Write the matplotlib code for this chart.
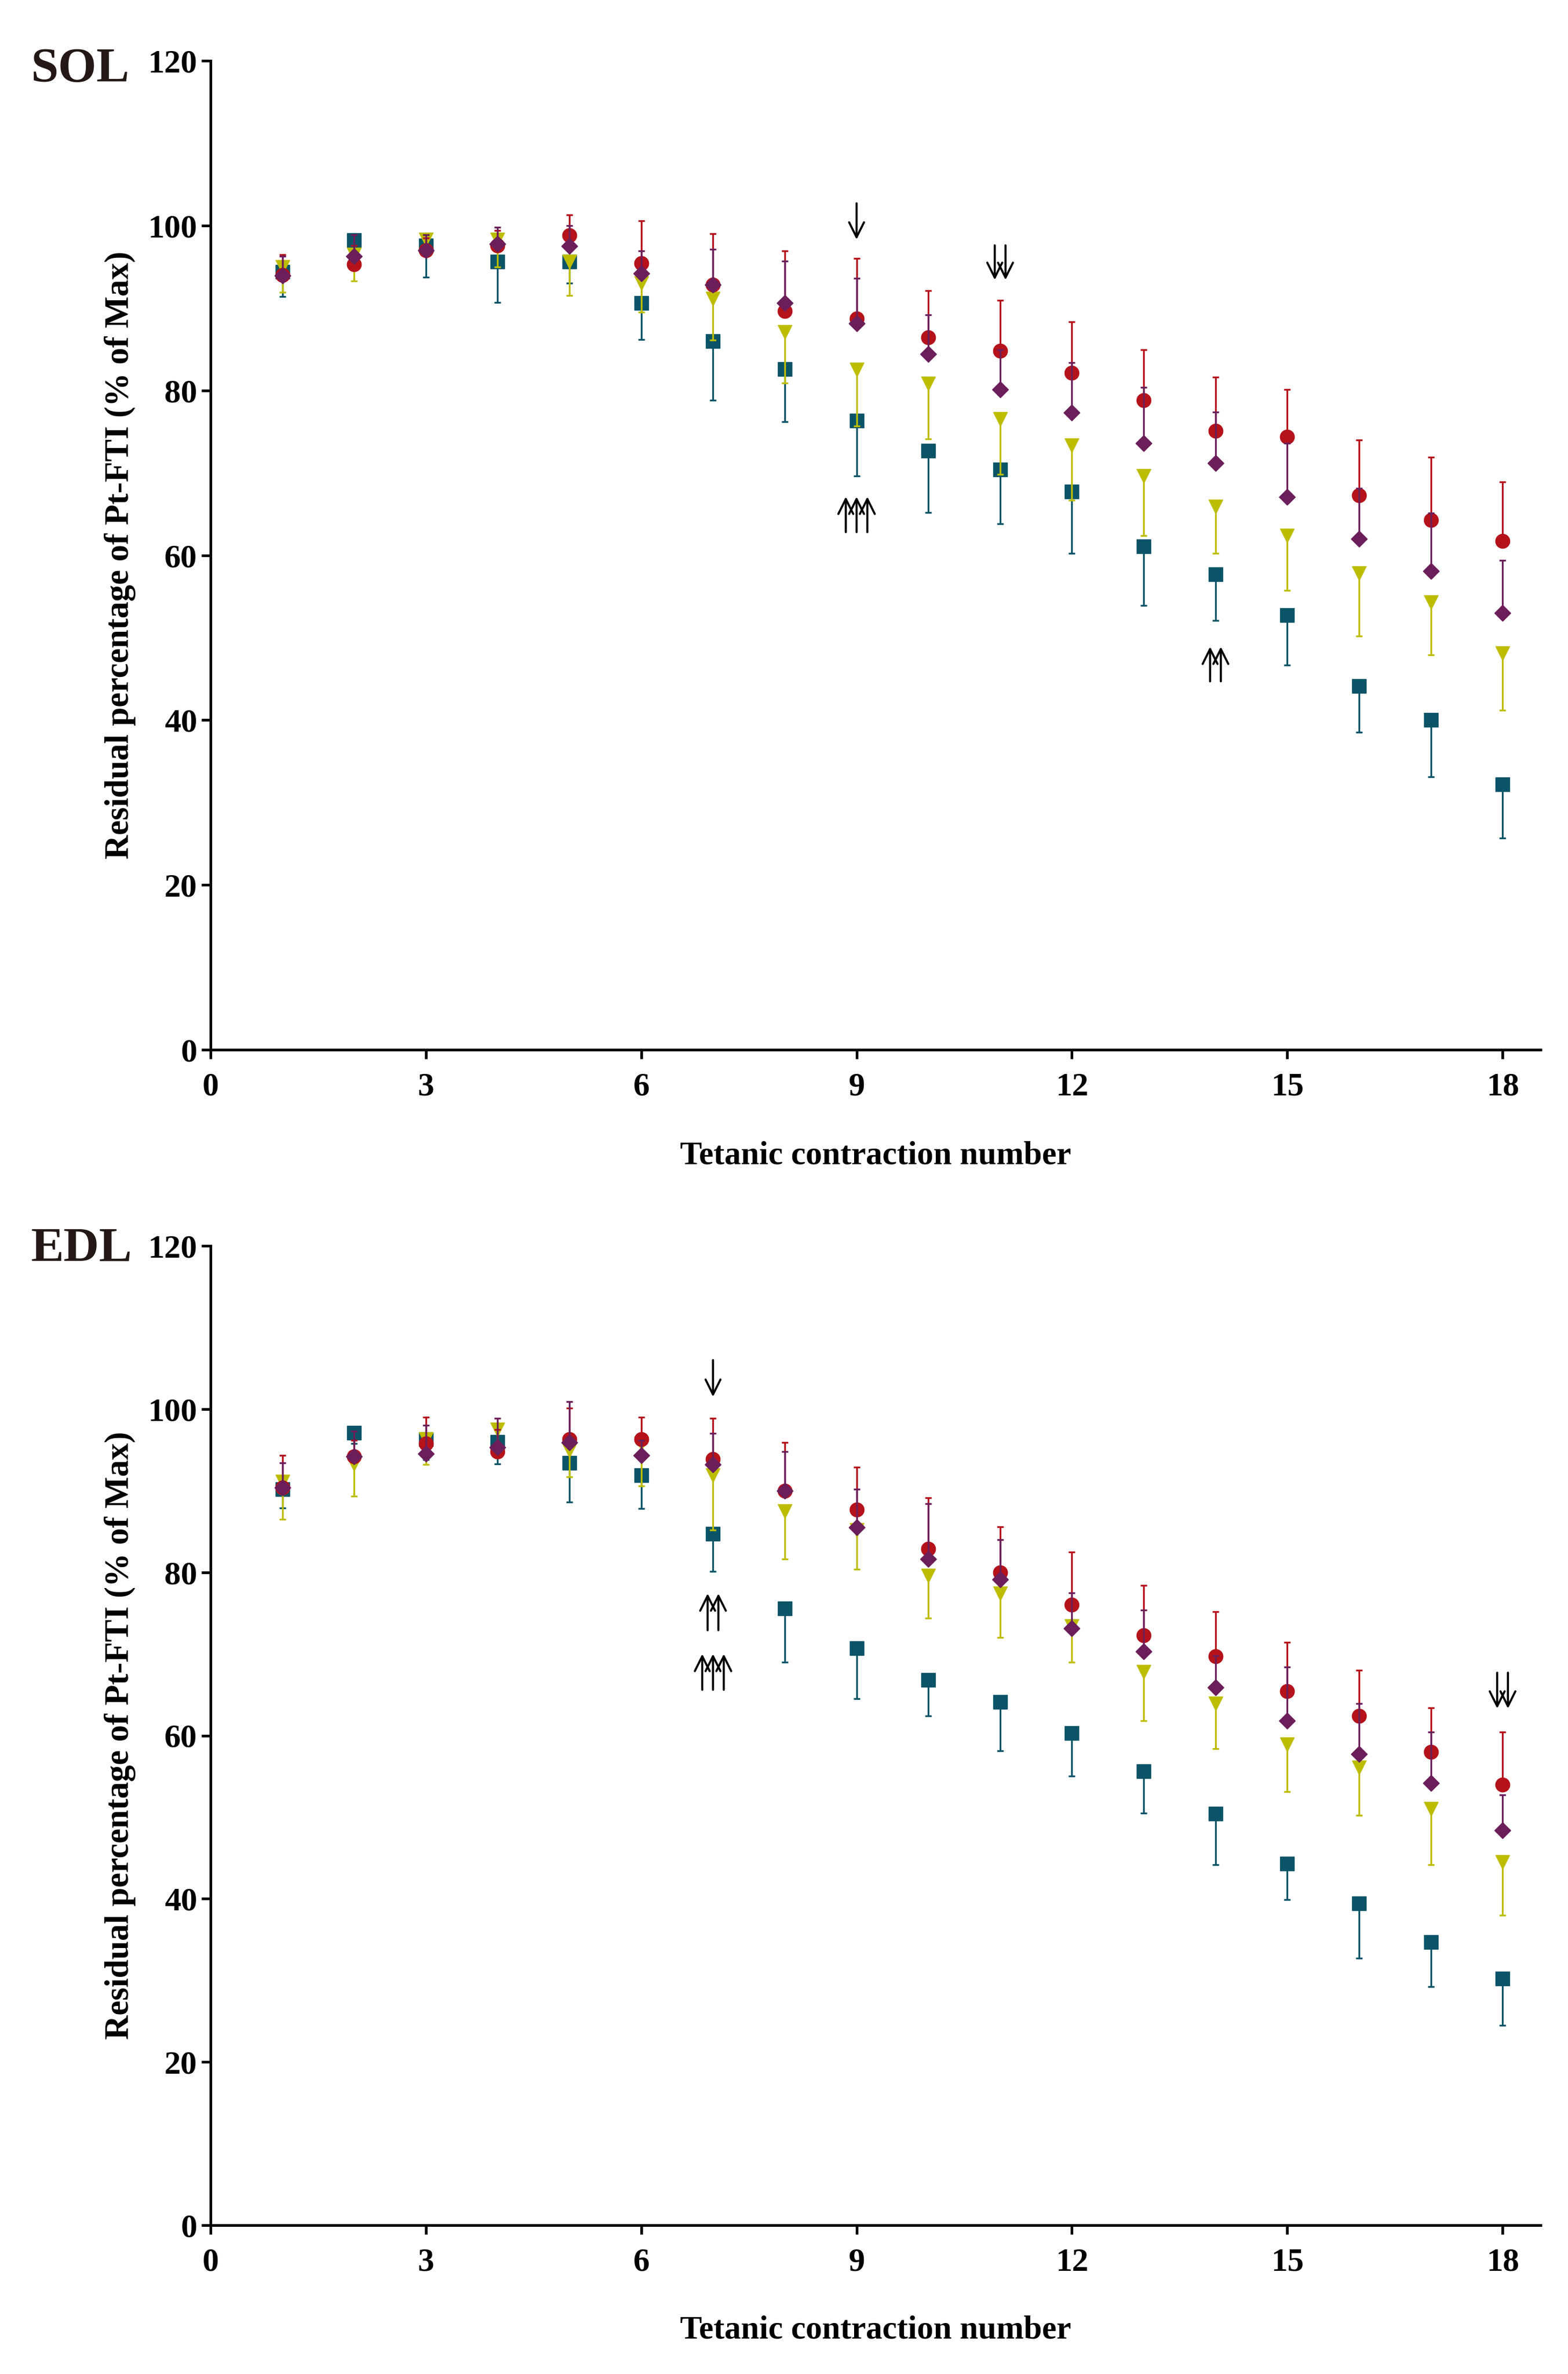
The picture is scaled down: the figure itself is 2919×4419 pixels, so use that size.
import numpy as np
import matplotlib
matplotlib.use("Agg")
import matplotlib.pyplot as plt

plt.rcParams['font.family'] = ['Liberation Serif', 'DejaVu Serif']
plt.rcParams['font.weight'] = 'bold'

contraction = np.arange(1, 19)

# SOL: means and one-sided error bars (red/purple up, yellow/teal down)
sol_red = [94.0, 95.3, 97.0, 97.6, 98.8, 95.4, 92.8, 89.6, 88.7, 86.4, 84.8, 82.1, 78.8, 75.1, 74.4, 67.3, 64.3, 61.7]
sol_red_err = [2.5, 2.3, 1.5, 1.8, 2.5, 5.2, 6.2, 7.3, 7.3, 5.7, 6.1, 6.2, 6.1, 6.5, 5.7, 6.7, 7.6, 7.2]
sol_purple = [93.9, 96.3, 97.0, 97.8, 97.5, 94.2, 92.8, 90.6, 88.1, 84.4, 80.1, 77.3, 73.6, 71.2, 67.1, 62.0, 58.1, 53.0]
sol_purple_err = [2.4, 2.6, 1.9, 2.0, 2.5, 2.7, 4.3, 5.1, 5.5, 4.8, 4.8, 6.1, 6.8, 6.2, 6.5, 6.1, 7.0, 6.4]
sol_yellow = [95.0, 96.5, 98.3, 98.3, 95.6, 93.0, 91.1, 87.1, 82.5, 80.8, 76.5, 73.3, 69.6, 65.9, 62.4, 57.8, 54.3, 48.1]
sol_yellow_err = [3.1, 3.2, 1.8, 3.3, 4.1, 3.5, 5.0, 6.2, 6.8, 6.7, 6.7, 6.6, 7.2, 5.7, 6.7, 7.6, 6.4, 6.9]
sol_teal = [94.4, 98.2, 97.6, 95.6, 95.6, 90.6, 86.0, 82.6, 76.3, 72.7, 70.4, 67.7, 61.1, 57.7, 52.7, 44.1, 40.0, 32.2]
sol_teal_err = [3.0, 1.2, 3.9, 4.9, 2.6, 4.4, 7.2, 6.4, 6.7, 7.5, 6.6, 7.5, 7.2, 5.6, 6.0, 5.6, 6.9, 6.5]

# EDL
edl_red = [90.4, 94.2, 95.8, 94.8, 96.3, 96.3, 93.9, 90.0, 87.7, 82.9, 80.0, 76.0, 72.3, 69.7, 65.4, 62.4, 58.0, 54.0]
edl_red_err = [3.9, 2.0, 3.2, 2.7, 3.8, 2.7, 5.0, 5.9, 5.2, 6.2, 5.6, 6.5, 6.1, 5.5, 6.0, 5.6, 5.4, 6.4]
edl_purple = [90.4, 94.2, 94.5, 95.3, 95.9, 94.3, 93.2, 90.0, 85.5, 81.6, 79.1, 73.1, 70.3, 65.9, 61.8, 57.7, 54.2, 48.4]
edl_purple_err = [3.0, 3.1, 3.5, 3.6, 5.0, 1.9, 3.8, 4.8, 4.7, 6.8, 4.9, 4.4, 5.1, 3.9, 6.6, 6.2, 6.2, 4.3]
edl_yellow = [91.1, 93.3, 96.3, 97.5, 94.9, 95.8, 91.9, 87.5, 85.2, 79.6, 77.4, 73.4, 67.8, 63.9, 58.9, 56.1, 51.0, 44.5]
edl_yellow_err = [4.6, 4.0, 3.1, 2.0, 3.2, 5.2, 6.7, 5.9, 4.8, 5.2, 5.4, 4.4, 6.0, 5.5, 5.8, 5.9, 6.8, 6.5]
edl_teal = [90.2, 97.1, 96.3, 96.0, 93.4, 91.9, 84.7, 75.6, 70.7, 66.8, 64.1, 60.3, 55.6, 50.4, 44.3, 39.4, 34.7, 30.2]
edl_teal_err = [2.3, 1.3, 2.5, 2.7, 4.8, 4.1, 4.6, 6.6, 6.2, 4.4, 6.0, 5.3, 5.1, 6.2, 4.4, 6.7, 5.5, 5.7]

# significance arrows: (contraction, tail, tip, count)
sol_arrows = [(9, 102.7, 98.3, 1), (11, 97.6, 93.4, 2), (9, 62.8, 67.1, 3), (14, 44.7, 48.9, 2)]
edl_arrows = [(7, 106.0, 101.5, 1), (7, 72.9, 77.4, 2), (7, 65.6, 70.0, 3), (18, 67.7, 63.3, 2)]

red = '#B5121B'
purple = '#6B1E5A'
yellow = '#BDBD00'
teal = '#0B5468'


def draw_panel(ax, series, arrows, name, name_y):
    z = 2
    for mean, err, col, mk, ms, up in series:
        mean = np.array(mean)
        err = np.array(err)
        zero = np.zeros_like(err)
        yerr = [zero, err] if up else [err, zero]
        ax.errorbar(contraction, mean, yerr=yerr, fmt='none', ecolor=col,
                    elinewidth=2.4, capsize=4, capthick=2.4, zorder=z)
        ax.plot(contraction, mean, linestyle='none', marker=mk, ms=ms,
                color=col, mec=col, zorder=z + 0.5)
        z += 1
    for x, tail, tip, n in arrows:
        for off in (np.arange(n) - (n - 1) / 2) * 0.15:
            ax.annotate('', xy=(x + off, tip), xytext=(x + off, tail),
                        arrowprops=dict(arrowstyle='->,head_length=0.5,head_width=0.25',
                                        lw=2.8, color='black', mutation_scale=40,
                                        shrinkA=0, shrinkB=0), zorder=20)
    ax.set_xlim(0, 18.53)
    ax.set_ylim(0, 120)
    ax.set_xticks(range(0, 19, 3))
    ax.set_yticks(range(0, 121, 20))
    for s in ['top', 'right']:
        ax.spines[s].set_visible(False)
    for s in ['left', 'bottom']:
        ax.spines[s].set_linewidth(3.6)
    ax.tick_params(axis='both', direction='out', length=12, width=3.6, labelsize=44)
    ax.tick_params(axis='x', pad=18)
    ax.tick_params(axis='y', pad=6)
    ax.set_xlabel('Tetanic contraction number', fontsize=44, fontweight='bold')
    ax.set_ylabel('Residual percentage of Pt-FTI (% of Max)', fontsize=45, fontweight='bold')
    ax.xaxis.set_label_coords(0.5, -0.092)
    ax.yaxis.set_label_coords(-0.056, 0.5)
    fig.text(57 / 2919, name_y, name, fontsize=66, fontweight='bold',
             color='#231815', ha='left', va='baseline')


fig = plt.figure(figsize=(29.19, 44.19), dpi=100)
ax1 = fig.add_axes([392 / 2919, 1 - 1954 / 4419, (2868 - 392) / 2919, (1954 - 113) / 4419])
ax2 = fig.add_axes([392 / 2919, 1 - 4142 / 4419, (2868 - 392) / 2919, (4142 - 2319) / 4419])

sol_series = [
    (sol_teal, sol_teal_err, teal, 's', 19, False),
    (sol_yellow, sol_yellow_err, yellow, 'v', 19, False),
    (sol_red, sol_red_err, red, 'o', 19, True),
    (sol_purple, sol_purple_err, purple, 'D', 15, True),
]
edl_series = [
    (edl_teal, edl_teal_err, teal, 's', 19, False),
    (edl_yellow, edl_yellow_err, yellow, 'v', 19, False),
    (edl_red, edl_red_err, red, 'o', 19, True),
    (edl_purple, edl_purple_err, purple, 'D', 15, True),
]

draw_panel(ax1, sol_series, sol_arrows, 'SOL', 1 - 152 / 4419)
draw_panel(ax2, edl_series, edl_arrows, 'EDL', 1 - 2348 / 4419)

fig.savefig('out.png', dpi=100)
